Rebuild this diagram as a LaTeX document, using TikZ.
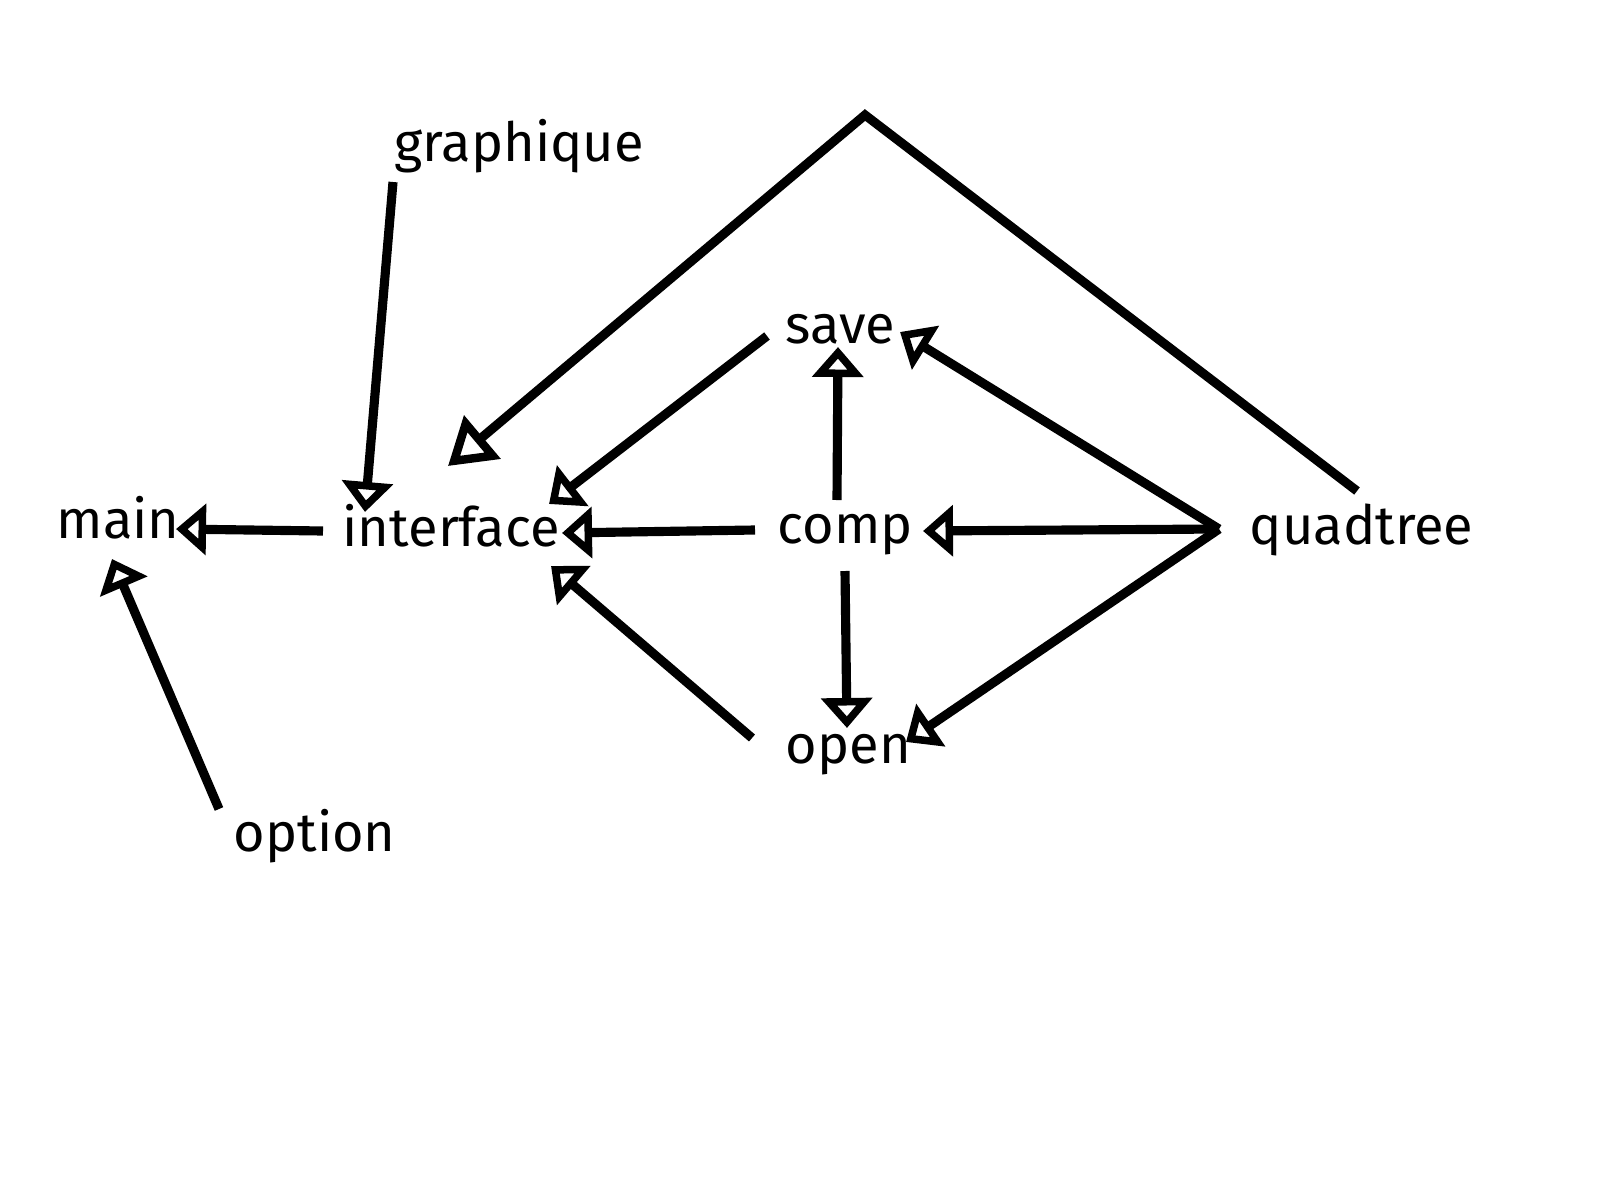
\documentclass[tikz,border=0pt]{standalone}
\usepackage{fontspec}
\setmainfont{Fira Sans}
\usetikzlibrary{arrows.meta}
\begin{document}
\begin{tikzpicture}[x=0.01cm,y=-0.01cm,
  lbl/.style={anchor=base west,inner sep=0pt,font=\fontsize{15.4}{19}\selectfont},
  conn/.style={line width=2.6pt,line join=miter},
  arr/.style={conn,-{Triangle[open,length=0.30cm,width=0.50cm,line width=2.4pt]}},
  bigarr/.style={conn,-{Triangle[open,length=0.45cm,width=0.55cm,line width=2.4pt]}}]
\useasboundingbox (0,0) rectangle (1600,1200);
% nodes
\node[lbl] (main) at (56,538) {main};
\node[lbl] (interface) at (342,546) {interface};
\node[lbl] (save) at (785,343) {save};
\node[lbl] (comp) at (777,543) {comp};
\node[lbl] (open) at (785,763) {open};
\node[lbl] (quadtree) at (1249,544) {quadtree};
\node[lbl] (option) at (233,851) {option};
\node[lbl] (graphique) at (394,161) {graphique};
% attachment points
\coordinate (iS) at (323,531); \coordinate (mE1) at (176,529);
\coordinate (gS) at (393,182); \coordinate (iE1) at (365,512);
\coordinate (oS) at (219,809); \coordinate (mE2) at (112,559);
\coordinate (qS1) at (1357,491); \coordinate (peak) at (865,115); \coordinate (iE2) at (448,466);
\coordinate (sS) at (767,336); \coordinate (iE3) at (549,504);
\coordinate (cS1) at (755,530); \coordinate (iE4) at (562,533);
\coordinate (pS) at (752,738); \coordinate (iE5) at (551,566);
\coordinate (cS2) at (837,500); \coordinate (sE1) at (838,347);
\coordinate (cS3) at (845,571); \coordinate (pE1) at (847,728);
\coordinate (qS2) at (1219,529); \coordinate (sE2) at (900,332);
\coordinate (cE1) at (923,531); \coordinate (pE2) at (906,742);
% connectors
\draw[arr] (iS) -- (mE1);
\draw[arr] (gS) -- (iE1);
\draw[arr] (oS) -- (mE2);
\draw[bigarr] (qS1) -- (peak) -- (iE2);
\draw[arr] (sS) -- (iE3);
\draw[arr] (cS1) -- (iE4);
\draw[arr] (pS) -- (iE5);
\draw[arr] (cS2) -- (sE1);
\draw[arr] (cS3) -- (pE1);
\draw[arr] (qS2) -- (sE2);
\draw[arr] (qS2) -- (cE1);
\draw[arr] (qS2) -- (pE2);
\end{tikzpicture}
\end{document}
